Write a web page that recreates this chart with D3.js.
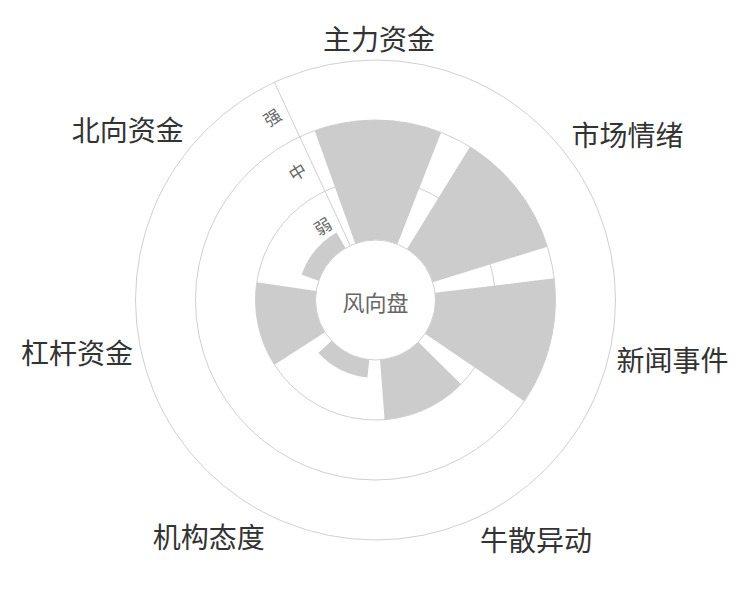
<!DOCTYPE html>
<html>
<head>
<meta charset="utf-8">
<script src="https://cdn.jsdelivr.net/npm/d3@7"></script>
<style>
  html, body { margin: 0; padding: 0; background: #fff; }
  svg { display: block; }
  text { font-family: "Noto Sans CJK SC", "Noto Sans", sans-serif; }
</style>
</head>
<body>
<div id="chart"></div>
<script>
// ---- data ----
const categories = ['主力资金', '市场情绪', '新闻事件', '牛散异动', '机构态度', '杠杆资金', '北向资金'];
const values = [2, 2, 2, 1, 0.3, 1, 0.3];
const levels = ['弱', '中', '强'];
const centerLabel = '风向盘';

// ---- layout ----
const W = 750, H = 600;
const cx = 375.5, cy = 300;
const innerR = 60, outerR = 240;
const rot = 0.8 * Math.PI / 180; // slight clockwise rotation of the angle axis

const svg = d3.select('#chart').append('svg').attr('width', W).attr('height', H);
const g = svg.append('g').attr('transform', `translate(${cx},${cy})`);

const step = 2 * Math.PI / categories.length;
const angle = d3.scaleBand()
  .domain(categories)
  .range([-step / 2 + rot, 2 * Math.PI - step / 2 + rot])
  .paddingInner(0.2)
  .paddingOuter(0.1);

const radius = d3.scaleLinear().domain([0, levels.length]).range([innerR, outerR]);

// split circles
const ringVals = d3.range(0, levels.length + 1);
g.selectAll('circle.ring').data(ringVals).join('circle')
  .attr('class', 'ring')
  .attr('r', d => radius(d))
  .attr('fill', 'none')
  .attr('stroke', '#d0d0d0')
  .attr('stroke-width', 1);

// bars
const arc = d3.arc()
  .innerRadius(radius(0))
  .outerRadius(d => radius(d.v))
  .startAngle(d => angle(d.c))
  .endAngle(d => angle(d.c) + angle.bandwidth());

g.selectAll('path.bar')
  .data(categories.map((c, i) => ({ c, v: values[i] })))
  .join('path')
  .attr('class', 'bar')
  .attr('d', arc)
  .attr('fill', '#cccccc');

// radial axis line at start angle
const axAng = -step / 2 + rot;
const ax = Math.sin(axAng), ay = -Math.cos(axAng);
g.append('line')
  .attr('x1', ax * radius(0)).attr('y1', ay * radius(0))
  .attr('x2', ax * radius(levels.length)).attr('y2', ay * radius(levels.length))
  .attr('stroke', '#cfcfcf').attr('stroke-width', 1);

// radial labels (band centers), offset perpendicular to axis
const px = -Math.cos(axAng), py = -Math.sin(axAng);
const off = 17;
g.selectAll('text.lvl').data(levels).join('text')
  .attr('class', 'lvl')
  .attr('transform', (d, i) => {
    const r = radius(i + 0.5);
    const x = ax * r + px * off, y = ay * r + py * off;
    return `translate(${x},${y}) rotate(-32)`;
  })
  .attr('text-anchor', 'middle')
  .attr('dominant-baseline', 'central')
  .attr('font-size', 17)
  .attr('fill', '#666')
  .text(d => d);

// category labels
const labelR = outerR + 8;
const fs = 28;
g.selectAll('text.cat').data(categories).join('text')
  .attr('class', 'cat')
  .each(function (d) {
    const a = angle(d) + angle.bandwidth() / 2;
    const x = Math.sin(a) * labelR, y = -Math.cos(a) * labelR;
    const anchor = Math.abs(x) / outerR < 0.3 ? 'middle' : (x > 0 ? 'start' : 'end');
    let yy = y;
    if (Math.abs(y) / outerR >= 0.3) yy = y > 0 ? y + fs / 2 : y - fs / 2;
    d3.select(this)
      .attr('x', x).attr('y', yy)
      .attr('text-anchor', anchor)
      .attr('dominant-baseline', 'central');
  })
  .attr('font-size', fs)
  .attr('fill', '#333')
  .text(d => d);

// center label
g.append('text')
  .attr('x', 0).attr('y', 1)
  .attr('text-anchor', 'middle')
  .attr('dominant-baseline', 'central')
  .attr('font-size', 22)
  .attr('fill', '#666')
  .text(centerLabel);
</script>
</body>
</html>
